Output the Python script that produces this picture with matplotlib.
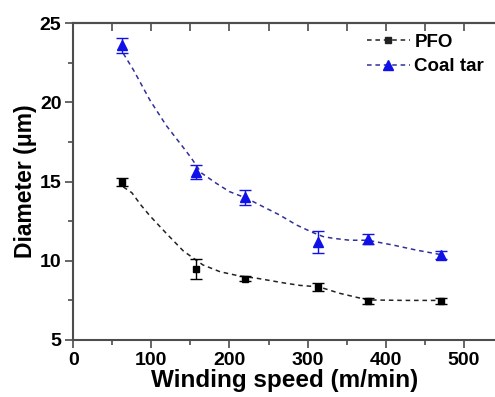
import numpy as np
import matplotlib
matplotlib.use("Agg")
import matplotlib.pyplot as plt
from matplotlib.lines import Line2D

plt.rcParams['font.family'] = ['Liberation Sans', 'DejaVu Sans']
plt.rcParams['font.weight'] = 'bold'

#   measured points (winding speed in m/min, diameter in um)
speed = [63, 157, 220, 314, 377, 471]
pfo_d = [15.0, 9.5, 8.88, 8.35, 7.47, 7.47]
pfo_err = [0.26, 0.62, 0.15, 0.25, 0.2, 0.2]
coal_d = [23.6, 15.6, 14.0, 11.2, 11.38, 10.37]
coal_err = [0.45, 0.42, 0.45, 0.7, 0.3, 0.27]

#   dashed guide curves
pfo_cx = [64, 75, 87, 98, 119, 141, 166, 188, 213, 235, 270, 290, 315, 341, 377, 424, 472]
pfo_cy = [14.67, 14.3, 13.5, 12.85, 11.74, 10.62, 9.74, 9.31, 9.04, 8.9, 8.6, 8.45, 8.35, 7.95, 7.53, 7.5, 7.5]
coal_cx = [64, 77, 98, 119, 141, 151, 164, 183, 200, 222, 243, 264, 286, 307, 320, 333, 354, 377, 409, 439, 473]
coal_cy = [23.1, 22.06, 20.16, 18.55, 17.15, 16.5, 15.55, 14.9, 14.37, 13.95, 13.42, 12.9, 12.26, 11.78, 11.53, 11.42, 11.3, 11.3, 11.0, 10.68, 10.37]

#   axis ticks
xticks = [0, 100, 200, 300, 400, 500]
xminor = [50, 150, 250, 350, 450]
yticks = [5, 10, 15, 20, 25]
yminor = [7.5, 12.5, 17.5, 22.5]

axis_col = '#4d4d4d'
blue = '#1010e8'
navy = '#30309a'

fig = plt.figure(figsize=(4.95, 3.97), dpi=100)
ax = fig.add_axes([0.148, 0.1436, 0.852, 0.7977])

ax.plot(pfo_cx, pfo_cy, color='#222222', lw=1.1, dashes=(3, 2.5))
ax.plot(coal_cx, coal_cy, color=navy, lw=1.1, dashes=(3, 2.5))

ax.errorbar(speed, pfo_d, yerr=pfo_err, fmt='s', color='black', ms=5,
            capsize=4.5, elinewidth=1, capthick=1)
ax.errorbar(speed, coal_d, yerr=coal_err, fmt='^', color=blue, ms=7,
            capsize=4.5, elinewidth=1, capthick=1, ecolor=blue)

ax.set_xlim(0, 540)
ax.set_ylim(5, 25)
ax.set_xticks(xticks, labels=[str(v) for v in xticks])
ax.set_xticks(xminor, minor=True)
ax.set_yticks(yticks, labels=[str(v) for v in yticks])
ax.set_yticks(yminor, minor=True)

for s in ['left', 'bottom', 'top']:
    ax.spines[s].set_color(axis_col)
    ax.spines[s].set_linewidth(1.5)
ax.spines['right'].set_visible(False)

ax.tick_params(which='both', direction='out', color=axis_col, width=1.2,
               top=False, right=False, labelsize=14, pad=2.5)
ax.tick_params(which='major', length=6)
ax.tick_params(which='minor', length=3.5)

#   top ticks point down into the axes
secx = ax.secondary_xaxis('top')
secx.set_xticks(xticks)
secx.set_xticks(xminor, minor=True)
secx.tick_params(which='both', direction='in', color=axis_col, width=1.2,
                 labeltop=False, length=6)
secx.spines['top'].set_color(axis_col)
secx.spines['top'].set_linewidth(1.5)

ax.set_xlabel('Winding speed (m/min)', fontsize=17.5, fontweight='bold', labelpad=0)
ax.set_ylabel('Diameter (\u03bcm)', fontsize=16.5, fontweight='bold', labelpad=2)

handles = [
    Line2D([], [], color='#222222', lw=1.1, dashes=(3, 2.5), marker='s', ms=5),
    Line2D([], [], color=navy, lw=1.1, dashes=(3, 2.5), marker='^', ms=7,
           markerfacecolor=blue, markeredgecolor=blue),
]
ax.legend(handles, ['PFO', 'Coal tar'], loc='upper right', frameon=False,
          prop={'size': 13.5, 'weight': 'bold'}, handlelength=2.3,
          handletextpad=0.25, labelspacing=0.4, borderaxespad=0.4,
          bbox_to_anchor=(1.01, 1.015))

for lab in ax.get_xticklabels() + ax.get_yticklabels():
    lab.set_fontweight('bold')

fig.savefig('out.png', dpi=100)
